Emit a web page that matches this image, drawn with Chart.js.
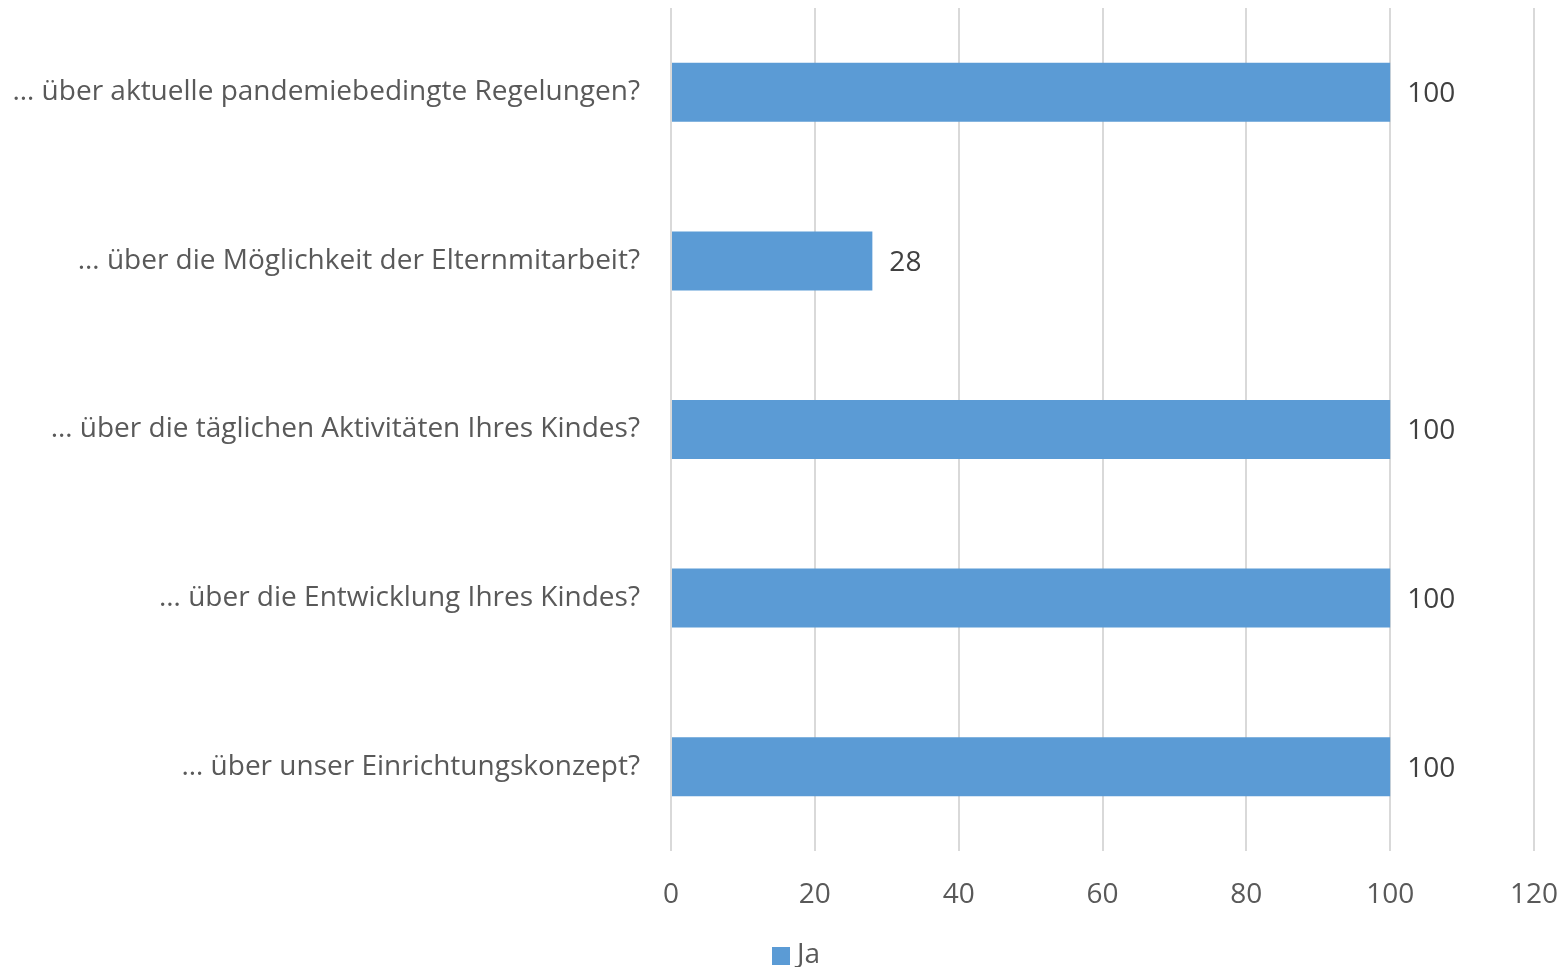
<!DOCTYPE html>
<html><head><meta charset="utf-8">
<script src="https://cdn.jsdelivr.net/npm/chart.js@4.4.1/dist/chart.umd.min.js"></script>
<style>html,body{margin:0;padding:0;background:#fff}#wrap{width:1567px;height:967px}</style>
</head><body><div id="wrap"><canvas id="c" width="1567" height="967"></canvas></div>
<script>
const categories = [
  "… über aktuelle pandemiebedingte Regelungen?",
  "… über die Möglichkeit der Elternmitarbeit?",
  "… über die täglichen Aktivitäten Ihres Kindes?",
  "… über die Entwicklung Ihres Kindes?",
  "… über unser Einrichtungskonzept?"
];
const seriesName = "Ja";
const values = [100, 28, 100, 100, 100];
const xTicks = [0, 20, 40, 60, 80, 100, 120];

const FONT = "'Open Sans', 'Noto Sans', sans-serif";
const BAR_COLOR = '#5b9bd5';

const valueLabels = {
  id: 'valueLabels',
  afterDatasetsDraw(chart) {
    const ctx = chart.ctx;
    const meta = chart.getDatasetMeta(0);
    ctx.save();
    ctx.font = "28px " + FONT;
    ctx.fillStyle = "#404040";
    ctx.textAlign = "left";
    ctx.textBaseline = "middle";
    meta.data.forEach((bar, i) => {
      ctx.fillText(String(values[i]), bar.x + 17, bar.y + 2);
    });
    ctx.restore();
  }
};

const customLegend = {
  id: 'customLegend',
  afterDraw(chart) {
    const ctx = chart.ctx;
    ctx.save();
    ctx.fillStyle = BAR_COLOR;
    ctx.fillRect(772, 947, 18, 18);
    ctx.font = "28px " + FONT;
    ctx.fillStyle = "#595959";
    ctx.textAlign = "left";
    ctx.textBaseline = "middle";
    ctx.fillText(chart.data.datasets[0].label, 797, 955);
    ctx.restore();
  }
};

new Chart(document.getElementById('c'), {
  type: 'bar',
  data: {
    labels: categories,
    datasets: [{
      label: seriesName,
      data: values,
      backgroundColor: BAR_COLOR,
      borderWidth: 0,
      barPercentage: 0.35,
      categoryPercentage: 1.0
    }]
  },
  options: {
    indexAxis: 'y',
    responsive: false,
    animation: false,
    layout: { padding: { top: 8, right: 33, left: 0, bottom: 34 } },
    plugins: {
      legend: { display: false },
      tooltip: { enabled: false }
    },
    scales: {
      x: {
        min: 0, max: 120,
        afterBuildTicks(scale) { scale.ticks = xTicks.map(v => ({ value: v })); },
        afterFit(scale) { scale.height = 82; scale.paddingLeft = 0; scale.paddingRight = 0; scale.paddingTop = 0; scale.paddingBottom = 0; },
        grid: { color: '#d9d9d9', lineWidth: 2, drawTicks: false },
        border: { display: false },
        ticks: { font: { family: FONT, size: 28 }, color: '#595959', padding: 27 }
      },
      y: {
        afterFit(scale) { scale.width = 671; scale.paddingTop = 0; scale.paddingBottom = 0; scale.paddingLeft = 0; scale.paddingRight = 0; },
        grid: { display: false, drawTicks: false },
        border: { display: false },
        ticks: { font: { family: FONT, size: 28 }, color: '#595959', padding: 31 }
      }
    }
  },
  plugins: [valueLabels, customLegend]
});
</script></body></html>
